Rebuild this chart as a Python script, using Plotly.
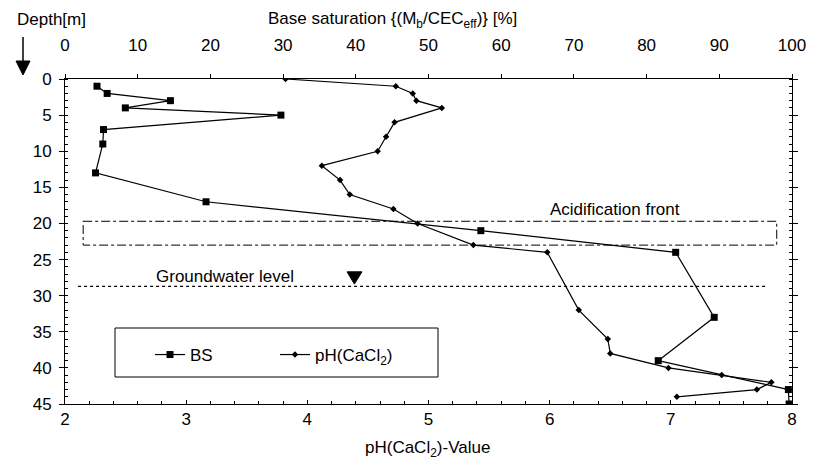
import plotly.graph_objects as go

# Base saturation (BS, %) vs depth (m)
bs_depth = [1, 2, 3, 4, 5, 7, 9, 13, 17, 21, 24, 33, 39, 43, 45]
bs_value = [4.4, 5.8, 14.5, 8.3, 29.7, 5.3, 5.2, 4.2, 19.4, 57.2, 84.0, 89.3, 81.6, 99.5, 99.6]

# pH(CaCl2) vs depth (m)
ph_depth = [0, 1, 2, 3, 4, 6, 8, 10, 12, 14, 16, 18, 20, 23, 24, 32, 36, 38, 40, 41, 42, 43, 44]
ph_value = [3.82, 4.73, 4.87, 4.90, 5.11, 4.72, 4.65, 4.58, 4.12, 4.27, 4.35, 4.71, 4.91,
            5.37, 5.98, 6.24, 6.48, 6.50, 6.98, 7.42, 7.83, 7.71, 7.05]

FONT = "Liberation Sans, Arial, sans-serif"
W, H = 817, 462
L, R, T, B = 65, 25, 79, 58
PW, PH = W - L - R, H - T - B


def px(xp):
    return (xp - L) / PW


def py(yp):
    return (H - B - yp) / PH


fig = go.Figure()
fig.add_trace(go.Scatter(
    x=bs_value, y=bs_depth, xaxis="x2", yaxis="y", name="BS",
    mode="lines+markers", line=dict(color="black", width=1.2),
    marker=dict(symbol="square", size=7, color="black")))
fig.add_trace(go.Scatter(
    x=ph_value, y=ph_depth, xaxis="x", yaxis="y", name="pH(CaCl<sub>2</sub>)",
    mode="lines+markers", line=dict(color="black", width=1.2),
    marker=dict(symbol="diamond", size=5, color="black")))

shapes = [
    # acidification front box
    dict(type="rect", xref="x2", yref="y", x0=2.5, x1=97.9, y0=19.7, y1=23.0,
         line=dict(color="black", width=1, dash="dashdot")),
    # groundwater level
    dict(type="line", xref="x2", yref="y", x0=1.8, x1=96.5, y0=28.7, y1=28.7,
         line=dict(color="black", width=1.3, dash="dot")),
    dict(type="path", xref="x2", yref="y",
         path="M 38.8 26.7 L 40.85 26.7 L 39.8 28.4 Z",
         fillcolor="black", line=dict(color="black", width=1)),
    # legend box
    dict(type="rect", xref="paper", yref="paper", x0=px(115), x1=px(438), y0=py(377), y1=py(328),
         line=dict(color="black", width=1)),
    # depth arrow
    dict(type="line", xref="paper", yref="paper", x0=px(23), x1=px(23), y0=py(37), y1=py(62),
         line=dict(color="black", width=1.5)),
    dict(type="path", xref="paper", yref="paper",
         path=f"M {px(16)} {py(61)} L {px(30)} {py(61)} L {px(23)} {py(75)} Z",
         fillcolor="black", line=dict(color="black", width=1)),
]

ann_common = dict(showarrow=False, xanchor="center", yanchor="middle")
annotations = [
    dict(text="Depth[m]", xref="paper", yref="paper", x=px(51), y=py(20),
         font=dict(size=17), **ann_common),
    dict(text="Base saturation {(M<sub>b</sub>/CEC<sub>eff</sub>)} [%]", xref="paper", yref="paper",
         x=px(392), y=py(20), font=dict(size=17), **ann_common),
    dict(text="pH(CaCl<sub>2</sub>)-Value", xref="paper", yref="paper",
         x=px(427), y=py(449), font=dict(size=17), **ann_common),
    dict(text="Acidification front", xref="x2", yref="y", x=75.6, y=18.0,
         font=dict(size=17), **ann_common),
    dict(text="Groundwater level", xref="x2", yref="y", x=22.0, y=27.4,
         font=dict(size=17), **ann_common),
]

axis_common = dict(showgrid=False, zeroline=False, showline=True, linecolor="black",
                   linewidth=1, tickcolor="black", tickfont=dict(size=17, color="black"))

fig.update_layout(
    width=W, height=H,
    margin=dict(l=L, r=R, t=T, b=B),
    paper_bgcolor="white", plot_bgcolor="white",
    font=dict(family=FONT, color="black", size=17),
    xaxis=dict(range=[2, 8], dtick=1, side="bottom", ticks="inside", ticklen=4,
               minor=dict(dtick=0.2, ticks="inside", ticklen=3, tickcolor="black"),
               **axis_common),
    xaxis2=dict(range=[0, 100], dtick=10, side="top", overlaying="x", ticks="outside",
                ticklen=4, ticklabelstandoff=16, **axis_common),
    yaxis=dict(range=[45, 0], dtick=5, ticks="outside", ticklen=5, mirror="ticks",
               ticklabelstandoff=4,
               minor=dict(dtick=1, ticks="inside", ticklen=3, tickcolor="black"),
               **axis_common),
    showlegend=True,
    legend=dict(orientation="h", x=px(150), y=py(355), xanchor="left", yanchor="middle",
                entrywidth=80, entrywidthmode="pixels", itemwidth=30,
                bgcolor="rgba(0,0,0,0)", font=dict(size=17), borderwidth=0),
    shapes=shapes,
    annotations=annotations,
)

fig.write_html("out.html", config={"displayModeBar": False},
               post_script="document.body.style.margin='0';")
